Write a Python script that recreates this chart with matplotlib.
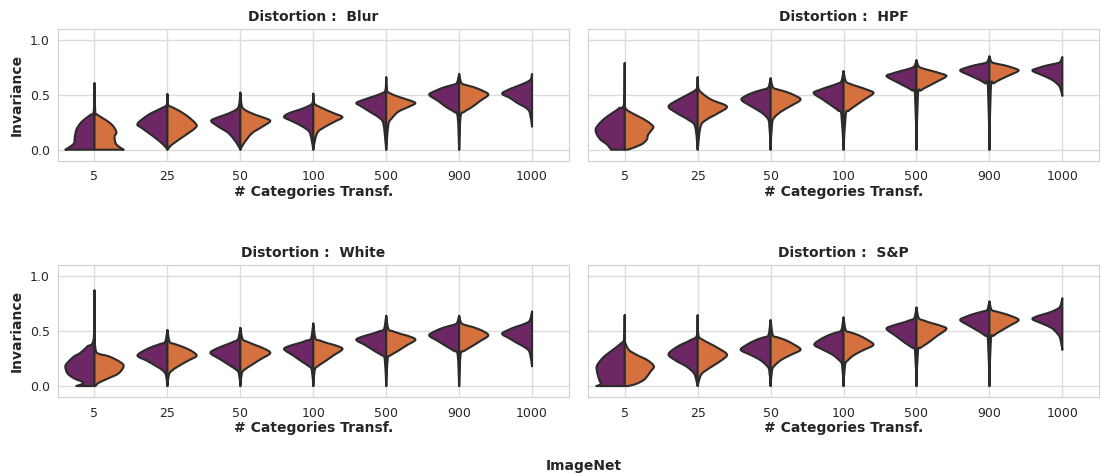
import matplotlib.pyplot as plt
import numpy as np
import seaborn as sns
from matplotlib.path import Path
from matplotlib.patches import PathPatch

# === DATA ===
categories = ["5", "25", "50", "100", "500", "900", "1000"]
distortions = ["Blur", "HPF", "White", "S&P"]

# each violin: knot heights (y), and half-widths (category units) of the
# left (purple) and right (orange) halves at those heights
blur_y = [
    [0, 0.03, 0.06, 0.12, 0.15, 0.18, 0.227, 0.273, 0.318, 0.35, 0.606],
    [0, 0.045, 0.12, 0.197, 0.236, 0.318, 0.38, 0.41, 0.506],
    [0, 0.06, 0.15, 0.205, 0.26, 0.29, 0.32, 0.36, 0.40, 0.52],
    [0, 0.106, 0.167, 0.212, 0.258, 0.297, 0.333, 0.38, 0.425, 0.51],
    [0, 0.227, 0.288, 0.348, 0.394, 0.424, 0.448, 0.48, 0.515, 0.545, 0.66],
    [0, 0.30, 0.345, 0.39, 0.445, 0.50, 0.535, 0.57, 0.59, 0.61, 0.69],
    [0.21, 0.335, 0.38, 0.425, 0.47, 0.51, 0.545, 0.575, 0.61, 0.64, 0.69],
]
blur_left = [
    [0.40, 0.33, 0.28, 0.27, 0.26, 0.25, 0.21, 0.145, 0.054, 0.01, 0],
    [0, 0.054, 0.19, 0.35, 0.41, 0.26, 0.077, 0.01, 0],
    [0, 0.05, 0.16, 0.29, 0.40, 0.33, 0.20, 0.07, 0.02, 0],
    [0, 0.027, 0.06, 0.15, 0.285, 0.40, 0.33, 0.127, 0.01, 0],
    [0, 0.036, 0.09, 0.23, 0.34, 0.41, 0.34, 0.20, 0.055, 0.01, 0],
    [0, 0.02, 0.07, 0.18, 0.29, 0.41, 0.33, 0.20, 0.09, 0.03, 0],
    [0, 0.03, 0.08, 0.20, 0.30, 0.41, 0.33, 0.22, 0.09, 0.02, 0],
]
blur_right = [
    [0.40, 0.33, 0.29, 0.275, 0.30, 0.29, 0.24, 0.15, 0.04, 0.01, 0],
    [0, 0.06, 0.22, 0.38, 0.39, 0.25, 0.09, 0.01, 0],
    [0, 0.05, 0.16, 0.29, 0.41, 0.33, 0.20, 0.07, 0.02, 0],
    [0, 0.03, 0.07, 0.17, 0.30, 0.40, 0.28, 0.12, 0.01, 0],
    [0, 0.03, 0.08, 0.17, 0.32, 0.40, 0.33, 0.18, 0.05, 0.01, 0],
    [0, 0.02, 0.07, 0.18, 0.29, 0.40, 0.33, 0.20, 0.09, 0.03, 0],
    [],
]

hpf_y = [
    [0, 0.045, 0.09, 0.136, 0.18, 0.212, 0.258, 0.303, 0.348, 0.379, 0.424, 0.788],
    [0, 0.212, 0.273, 0.333, 0.394, 0.455, 0.515, 0.56, 0.66],
    [0, 0.24, 0.30, 0.35, 0.40, 0.455, 0.495, 0.53, 0.55, 0.57, 0.65],
    [0, 0.32, 0.355, 0.395, 0.455, 0.515, 0.545, 0.575, 0.60, 0.625, 0.715],
    [0, 0.50, 0.54, 0.575, 0.62, 0.67, 0.695, 0.72, 0.74, 0.76, 0.815],
    [0, 0.57, 0.605, 0.64, 0.68, 0.72, 0.745, 0.77, 0.785, 0.80, 0.85],
    [0.49, 0.565, 0.60, 0.64, 0.68, 0.72, 0.745, 0.77, 0.785, 0.80, 0.845],
]
hpf_left = [
    [0.19, 0.24, 0.33, 0.38, 0.40, 0.38, 0.32, 0.24, 0.14, 0.077, 0.01, 0],
    [0, 0.036, 0.13, 0.285, 0.40, 0.27, 0.10, 0.01, 0],
    [0, 0.02, 0.06, 0.15, 0.28, 0.40, 0.33, 0.20, 0.09, 0.03, 0],
    [0, 0.03, 0.07, 0.15, 0.28, 0.41, 0.33, 0.20, 0.09, 0.03, 0],
    [0, 0.02, 0.06, 0.15, 0.28, 0.41, 0.33, 0.20, 0.09, 0.03, 0],
    [0, 0.02, 0.06, 0.15, 0.28, 0.40, 0.33, 0.20, 0.09, 0.03, 0],
    [0, 0.03, 0.07, 0.15, 0.28, 0.41, 0.33, 0.20, 0.09, 0.03, 0],
]
hpf_right = [
    [0.04, 0.22, 0.30, 0.32, 0.37, 0.39, 0.31, 0.19, 0.06, 0.01, 0, 0],
    [0, 0.04, 0.12, 0.28, 0.40, 0.19, 0.06, 0.01, 0],
    [0, 0.02, 0.06, 0.15, 0.28, 0.41, 0.33, 0.20, 0.09, 0.03, 0],
    [0, 0.03, 0.07, 0.15, 0.28, 0.41, 0.33, 0.20, 0.09, 0.03, 0],
    [0, 0.02, 0.06, 0.15, 0.28, 0.41, 0.33, 0.20, 0.09, 0.03, 0],
    [0, 0.02, 0.06, 0.15, 0.28, 0.40, 0.33, 0.20, 0.09, 0.03, 0],
    [],
]

white_y = [
    [0, 0.03, 0.07, 0.115, 0.18, 0.22, 0.27, 0.30, 0.36, 0.435, 0.87],
    [0, 0.10, 0.14, 0.18, 0.23, 0.275, 0.32, 0.36, 0.385, 0.405, 0.51],
    [0, 0.115, 0.15, 0.19, 0.245, 0.30, 0.34, 0.375, 0.405, 0.43, 0.53],
    [0, 0.145, 0.18, 0.22, 0.28, 0.335, 0.365, 0.39, 0.415, 0.435, 0.57],
    [0, 0.245, 0.28, 0.315, 0.37, 0.42, 0.45, 0.475, 0.50, 0.52, 0.64],
    [0, 0.285, 0.32, 0.36, 0.41, 0.46, 0.50, 0.535, 0.555, 0.575, 0.64],
    [0.18, 0.30, 0.345, 0.39, 0.43, 0.475, 0.51, 0.54, 0.57, 0.60, 0.68],
]
white_left = [
    [0.25, 0.15, 0.28, 0.37, 0.40, 0.36, 0.28, 0.20, 0.10, 0.01, 0],
    [0, 0.02, 0.06, 0.15, 0.28, 0.41, 0.33, 0.20, 0.09, 0.03, 0],
    [0, 0.02, 0.06, 0.15, 0.28, 0.41, 0.33, 0.20, 0.09, 0.03, 0],
    [0, 0.02, 0.06, 0.15, 0.28, 0.40, 0.33, 0.20, 0.09, 0.03, 0],
    [0, 0.02, 0.06, 0.15, 0.28, 0.41, 0.33, 0.20, 0.09, 0.03, 0],
    [0, 0.02, 0.07, 0.17, 0.29, 0.41, 0.33, 0.20, 0.09, 0.03, 0],
    [0, 0.03, 0.08, 0.20, 0.30, 0.41, 0.33, 0.22, 0.09, 0.03, 0],
]
white_right = [
    [0.01, 0.06, 0.19, 0.33, 0.40, 0.35, 0.20, 0.04, 0.01, 0, 0],
    [0, 0.02, 0.06, 0.15, 0.28, 0.40, 0.33, 0.20, 0.09, 0.03, 0],
    [0, 0.02, 0.06, 0.15, 0.28, 0.41, 0.33, 0.20, 0.09, 0.03, 0],
    [0, 0.02, 0.06, 0.15, 0.28, 0.40, 0.33, 0.20, 0.09, 0.03, 0],
    [0, 0.02, 0.06, 0.15, 0.28, 0.40, 0.33, 0.20, 0.09, 0.03, 0],
    [0, 0.02, 0.07, 0.17, 0.29, 0.40, 0.33, 0.20, 0.09, 0.03, 0],
    [],
]

sp_y = [
    [0, 0.018, 0.055, 0.10, 0.13, 0.18, 0.236, 0.282, 0.327, 0.388, 0.433, 0.645],
    [0, 0.055, 0.115, 0.176, 0.236, 0.29, 0.357, 0.418, 0.464, 0.645],
    [0, 0.145, 0.19, 0.24, 0.285, 0.33, 0.375, 0.42, 0.445, 0.465, 0.60],
    [0, 0.19, 0.235, 0.285, 0.33, 0.375, 0.42, 0.465, 0.49, 0.51, 0.625],
    [0, 0.315, 0.35, 0.39, 0.455, 0.52, 0.55, 0.575, 0.60, 0.62, 0.715],
    [0, 0.42, 0.46, 0.50, 0.55, 0.60, 0.63, 0.66, 0.68, 0.695, 0.77],
    [0.33, 0.435, 0.48, 0.53, 0.57, 0.61, 0.64, 0.665, 0.695, 0.725, 0.80],
]
sp_left = [
    [0.39, 0.33, 0.35, 0.37, 0.38, 0.385, 0.33, 0.26, 0.17, 0.054, 0.01, 0],
    [0, 0.02, 0.05, 0.15, 0.31, 0.40, 0.285, 0.10, 0.01, 0],
    [0, 0.02, 0.06, 0.15, 0.28, 0.41, 0.33, 0.20, 0.09, 0.03, 0],
    [0, 0.02, 0.06, 0.15, 0.28, 0.40, 0.33, 0.20, 0.09, 0.03, 0],
    [0, 0.02, 0.06, 0.15, 0.28, 0.41, 0.33, 0.20, 0.09, 0.03, 0],
    [0, 0.02, 0.06, 0.15, 0.28, 0.40, 0.33, 0.20, 0.09, 0.03, 0],
    [0, 0.03, 0.07, 0.15, 0.28, 0.41, 0.33, 0.20, 0.09, 0.03, 0],
]
sp_right = [
    [0.04, 0.15, 0.26, 0.32, 0.35, 0.40, 0.31, 0.17, 0.06, 0.01, 0, 0],
    [0, 0.02, 0.06, 0.19, 0.33, 0.40, 0.25, 0.08, 0.01, 0],
    [0, 0.02, 0.06, 0.15, 0.28, 0.41, 0.33, 0.20, 0.09, 0.03, 0],
    [0, 0.02, 0.06, 0.15, 0.28, 0.41, 0.33, 0.20, 0.09, 0.03, 0],
    [0, 0.02, 0.06, 0.15, 0.28, 0.41, 0.33, 0.20, 0.09, 0.03, 0],
    [0, 0.02, 0.06, 0.15, 0.28, 0.40, 0.33, 0.20, 0.09, 0.03, 0],
    [],
]

panels = [
    (blur_y, blur_left, blur_right),
    (hpf_y, hpf_left, hpf_right),
    (white_y, white_left, white_right),
    (sp_y, sp_left, sp_right),
]

purple = "#6c2764"
orange = "#d4713e"
edge = "#2b2b2b"


def half_violin(ax, pos, ys, ws, side, color):
    if len(ws) == 0:
        return
    pts = np.column_stack([pos + side * np.asarray(ws, float), np.asarray(ys, float)])
    n = len(pts)
    verts = [(pos, ys[0]), tuple(pts[0])]
    codes = [Path.MOVETO, Path.LINETO]
    # smooth outline through the knots (cubic bezier segments)
    for i in range(n - 1):
        p0, p1, p2, p3 = pts[max(i - 1, 0)], pts[i], pts[i + 1], pts[min(i + 2, n - 1)]
        c1 = p1 + (p2 - p0) / 6
        c2 = p2 - (p3 - p1) / 6
        for c in (c1, c2):
            c[0] = pos + side * max(side * (c[0] - pos), 0)
        verts += [tuple(c1), tuple(c2), tuple(p2)]
        codes += [Path.CURVE4] * 3
    verts += [(pos, ys[-1]), (pos, ys[0])]
    codes += [Path.LINETO, Path.CLOSEPOLY]
    ax.add_patch(PathPatch(Path(verts, codes), facecolor=color, edgecolor=edge,
                           linewidth=1.5, joinstyle="round", zorder=3))


# === Plot ===
sns.set_style("whitegrid")
plt.rcParams["font.family"] = ["DejaVu Sans"]

fig, axes = plt.subplots(2, 2, figsize=(11.01, 4.74), dpi=100)
fig.subplots_adjust(left=0.0527, right=0.998, top=0.9388, bottom=0.1624,
                    wspace=0.0388, hspace=0.795)

for ax, name, (ys_all, left_all, right_all) in zip(axes.flat, distortions, panels):
    for i in range(len(categories)):
        half_violin(ax, i, ys_all[i], left_all[i], -1, purple)
        half_violin(ax, i, ys_all[i], right_all[i], 1, orange)
    ax.set_xlim(-0.5, len(categories) - 0.5)
    ax.set_ylim(-0.1, 1.1)
    ax.set_xticks(range(len(categories)))
    ax.set_xticklabels(categories)
    ax.set_yticks([0.0, 0.5, 1.0])
    ax.tick_params(axis="both", labelsize=9, colors="#262626", length=0)
    ax.tick_params(axis="x", pad=7)
    ax.tick_params(axis="y", pad=6)
    ax.set_title("Distortion :  " + name, fontsize=10, fontweight="bold",
                 color="#262626", pad=6)
    ax.set_xlabel("# Categories Transf.", fontsize=10, fontweight="bold",
                  color="#262626", labelpad=1)
    if ax in axes[:, 0]:
        ax.set_ylabel("Invariance", fontsize=10, fontweight="bold", color="#262626")
    else:
        ax.set_yticklabels([])
    ax.grid(True, color="#dcdcdc", linewidth=1)
    for s in ax.spines.values():
        s.set_color("#d0d0d0")

fig.text(0.53, 0.017, "ImageNet", ha="center", va="center", fontsize=10,
         fontweight="bold", color="#262626")

plt.savefig("out.png", dpi=100)
